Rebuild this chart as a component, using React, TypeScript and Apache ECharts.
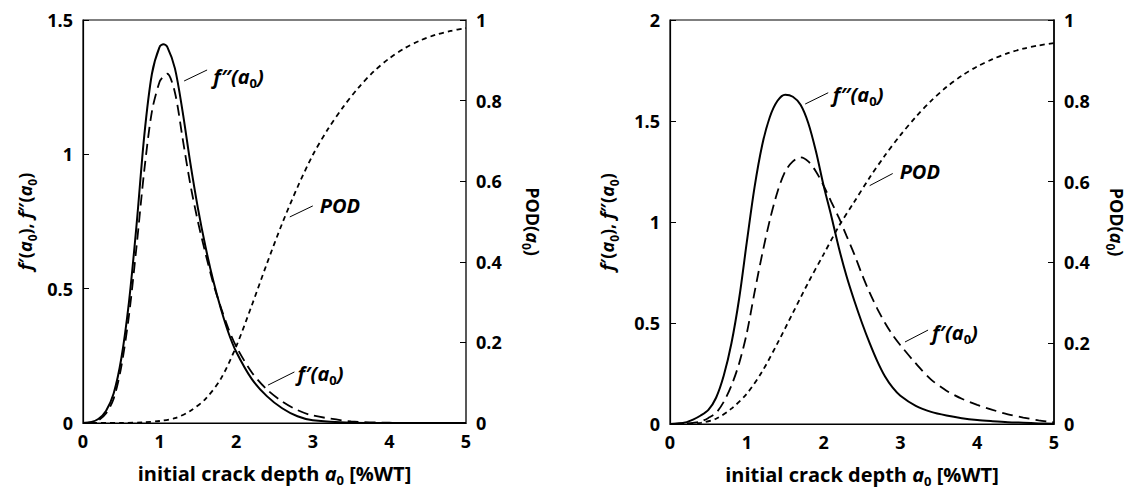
import React, { useEffect, useRef } from "react";
import * as echarts from "echarts";

const FONT = "'Open Sans', Lato, sans-serif";

// ---------- Left panel ----------
const leftX = [0, 0.1, 0.2, 0.3, 0.4, 0.5, 0.6, 0.7, 0.8, 0.9, 1.0, 1.05, 1.1, 1.2, 1.3, 1.4, 1.5, 1.6, 1.7, 1.8, 1.9, 2.0, 2.2, 2.4, 2.6, 2.8, 3.0, 3.5, 4.0, 4.5, 5.0];
const leftF2 = [0, 0.003, 0.015, 0.045, 0.11, 0.24, 0.45, 0.74, 1.07, 1.30, 1.40, 1.41, 1.40, 1.32, 1.16, 0.97, 0.80, 0.655, 0.53, 0.425, 0.335, 0.265, 0.165, 0.10, 0.055, 0.025, 0.01, 0.001, 0, 0, 0];
const leftF1 = [0, 0.002, 0.01, 0.035, 0.09, 0.21, 0.40, 0.66, 0.94, 1.16, 1.27, 1.29, 1.30, 1.23, 1.06, 0.89, 0.75, 0.63, 0.52, 0.43, 0.35, 0.285, 0.19, 0.125, 0.08, 0.048, 0.028, 0.006, 0.001, 0, 0];
const leftPodX = [0, 0.5, 0.8, 1.0, 1.2, 1.4, 1.6, 1.8, 2.0, 2.2, 2.4, 2.6, 2.8, 3.0, 3.2, 3.4, 3.6, 3.8, 4.0, 4.2, 4.4, 4.6, 4.8, 5.0];
const leftPod = [0, 0, 0.002, 0.005, 0.012, 0.03, 0.06, 0.11, 0.19, 0.29, 0.395, 0.495, 0.585, 0.665, 0.73, 0.785, 0.833, 0.873, 0.905, 0.93, 0.949, 0.963, 0.973, 0.98];

// ---------- Right panel ----------
const rightX = [0, 0.2, 0.3, 0.4, 0.5, 0.6, 0.7, 0.8, 0.9, 1.0, 1.1, 1.2, 1.3, 1.4, 1.5, 1.6, 1.7, 1.8, 1.9, 2.0, 2.1, 2.2, 2.3, 2.4, 2.5, 2.6, 2.7, 2.8, 2.9, 3.0, 3.2, 3.4, 3.6, 3.8, 4.0, 4.2, 4.4, 4.6, 4.8, 5.0];
const rightF2 = [0, 0.008, 0.022, 0.042, 0.07, 0.13, 0.24, 0.40, 0.62, 0.90, 1.17, 1.38, 1.52, 1.60, 1.63, 1.62, 1.58, 1.49, 1.35, 1.18, 1.03, 0.87, 0.73, 0.61, 0.50, 0.40, 0.31, 0.235, 0.18, 0.14, 0.09, 0.06, 0.042, 0.029, 0.02, 0.014, 0.009, 0.006, 0.003, 0.001];
const rightF1 = [0, 0.003, 0.006, 0.012, 0.03, 0.055, 0.11, 0.19, 0.30, 0.45, 0.65, 0.84, 1.01, 1.15, 1.25, 1.30, 1.32, 1.30, 1.25, 1.18, 1.10, 1.02, 0.93, 0.84, 0.74, 0.65, 0.57, 0.50, 0.44, 0.39, 0.30, 0.22, 0.165, 0.125, 0.095, 0.07, 0.048, 0.032, 0.018, 0.008];
const rightPodX = [0, 0.2, 0.4, 0.6, 0.8, 1.0, 1.2, 1.4, 1.6, 1.8, 2.0, 2.2, 2.4, 2.6, 2.8, 3.0, 3.2, 3.4, 3.6, 3.8, 4.0, 4.2, 4.4, 4.6, 4.8, 5.0];
const rightPod = [0, 0, 0.003, 0.013, 0.038, 0.075, 0.13, 0.20, 0.275, 0.35, 0.42, 0.49, 0.55, 0.61, 0.665, 0.715, 0.76, 0.80, 0.834, 0.862, 0.885, 0.903, 0.918, 0.929, 0.937, 0.943];

// axis ranges / ticks
const fMax = [1.5, 2];
const xTicks = [0, 1, 2, 3, 4, 5];

// annotation labels (data coords on the f-axis of each panel)
const labelTexts = ["{i|f\u2033(a}{s|0}{i|)}", "{i|POD}", "{i|f\u2032(a}{s|0}{i|)}"];
const annotations = [
  { g: 0, text: 0, tx: 1.70, ty: 1.288, l: [1.32, 1.273, 1.62, 1.314] },
  { g: 0, text: 1, tx: 3.09, ty: 0.811, l: [2.70, 0.767, 3.0, 0.808] },
  { g: 0, text: 2, tx: 2.80, ty: 0.186, l: [2.415, 0.141, 2.76, 0.19] },
  { g: 1, text: 0, tx: 2.12, ty: 1.63, l: [1.76, 1.584, 2.06, 1.64] },
  { g: 1, text: 1, tx: 2.99, ty: 1.25, l: [2.60, 1.18, 2.90, 1.24] },
  { g: 1, text: 2, tx: 3.41, ty: 0.455, l: [3.06, 0.406, 3.36, 0.465] },
];

const zip = (xs: number[], ys: number[]) => xs.map((x, i) => [x, ys[i]]);

const LH = 26;
const rich = (size: number) => ({
  n: { fontFamily: FONT, fontWeight: "bold", fontSize: size, lineHeight: LH, color: "#000" },
  i: { fontFamily: FONT, fontWeight: "bold", fontStyle: "italic", fontSize: size, lineHeight: LH, color: "#000" },
  s: { fontFamily: FONT, fontWeight: "bold", fontSize: Math.round(size * 0.65), lineHeight: 9, verticalAlign: "bottom", color: "#000" },
});

export default function App() {
  const ref = useRef<HTMLDivElement>(null);
  useEffect(() => {
    document.body.style.margin = "0";
    const chart = echarts.init(ref.current!, null, { renderer: "svg" });
    const grids = [
      { left: 83, top: 20, width: 383, height: 403 },
      { left: 670, top: 20, width: 384, height: 404 },
    ];
    const leftNameGap = [45, 50];
    const rightNameGap = [54, 50];
    const xAxes: any[] = [];
    const yAxes: any[] = [];
    const series: any[] = [];
    const panels = [
      { x: leftX, f2: leftF2, f1: leftF1, px: leftPodX, pod: leftPod },
      { x: rightX, f2: rightF2, f1: rightF1, px: rightPodX, pod: rightPod },
    ];
    const labelStyle = { color: "#000", fontFamily: FONT, fontWeight: "bold", fontSize: 18 };
    panels.forEach((p, g) => {
      xAxes.push({
        gridIndex: g, type: "value", min: xTicks[0], max: xTicks[xTicks.length - 1], interval: 1,
        axisLine: { show: true, onZero: false, lineStyle: { color: "#000", width: 1.2 } },
        axisTick: { show: false }, splitLine: { show: false },
        axisLabel: { ...labelStyle, margin: 9 },
        name: "{n|initial crack depth }{i|a}{s|0}{n| [%WT]}",
        nameLocation: "middle", nameGap: 37,
        nameTextStyle: { rich: rich(20) },
      });
      yAxes.push({
        gridIndex: g, type: "value", min: 0, max: fMax[g], interval: 0.5, position: "left",
        axisLine: { show: true, onZero: false, lineStyle: { color: "#000", width: 1.2 } },
        axisTick: { show: true, inside: true, length: 6, lineStyle: { color: "#000" } },
        splitLine: { show: false },
        axisLabel: { ...labelStyle, margin: 10 },
        name: "{i|f}{n|\u2032(}{i|a}{s|0}{n|), }{i|f}{n|\u2033(}{i|a}{s|0}{n|)}",
        nameLocation: "middle", nameRotate: 90, nameGap: leftNameGap[g],
        nameTextStyle: { rich: rich(18) },
      });
      yAxes.push({
        gridIndex: g, type: "value", min: 0, max: 1, interval: 0.2, position: "right",
        axisLine: { show: true, onZero: false, lineStyle: { color: g === 0 ? "#555" : "#000", width: 1.5 } },
        axisTick: { show: true, inside: true, length: 6, lineStyle: { color: "#000" } },
        splitLine: { show: false },
        axisLabel: { ...labelStyle, margin: 10, formatter: (v: number) => String(+v.toFixed(1)) },
        name: "{n|POD(}{i|a}{s|0}{n|)}",
        nameLocation: "middle", nameRotate: -90, nameGap: rightNameGap[g],
        nameTextStyle: { rich: rich(18) },
      });
      const common = { type: "line", xAxisIndex: g, showSymbol: false, symbol: "none", smooth: 0.3, silent: true };
      series.push({ ...common, name: "f2-" + g, yAxisIndex: 2 * g, data: zip(p.x, p.f2), lineStyle: { color: "#000", width: 2, type: "solid" } });
      series.push({ ...common, name: "f1-" + g, yAxisIndex: 2 * g, data: zip(p.x, p.f1), lineStyle: { color: "#000", width: 1.8, type: [11, 6] } });
      series.push({ ...common, name: "pod-" + g, yAxisIndex: 2 * g + 1, data: zip(p.px, p.pod), lineStyle: { color: "#000", width: 1.8, type: [5, 4] } });
    });
    chart.setOption({
      animation: false,
      backgroundColor: "#fff",
      grid: grids.map((gr) => ({ ...gr, show: true, borderColor: "#000", borderWidth: 1.2, backgroundColor: "transparent" })),
      xAxis: xAxes,
      yAxis: yAxes,
      series,
    });
    const graphics: any[] = [];
    annotations.forEach((a) => {
      const finder = { xAxisIndex: a.g, yAxisIndex: 2 * a.g };
      const t = chart.convertToPixel(finder, [a.tx, a.ty]) as number[];
      const p1 = chart.convertToPixel(finder, [a.l[0], a.l[1]]) as number[];
      const p2 = chart.convertToPixel(finder, [a.l[2], a.l[3]]) as number[];
      graphics.push({
        type: "line", silent: true,
        shape: { x1: p1[0], y1: p1[1], x2: p2[0], y2: p2[1] },
        style: { stroke: "#000", lineWidth: 1 },
      });
      graphics.push({
        type: "text", silent: true, x: t[0], y: t[1],
        style: { text: labelTexts[a.text], rich: rich(20), align: "left", verticalAlign: "middle" },
      });
    });
    chart.setOption({ graphic: graphics });
    return () => chart.dispose();
  }, []);
  return <div ref={ref} style={{ width: 1131, height: 494, position: "absolute", left: 0, top: 0 }} />;
}
